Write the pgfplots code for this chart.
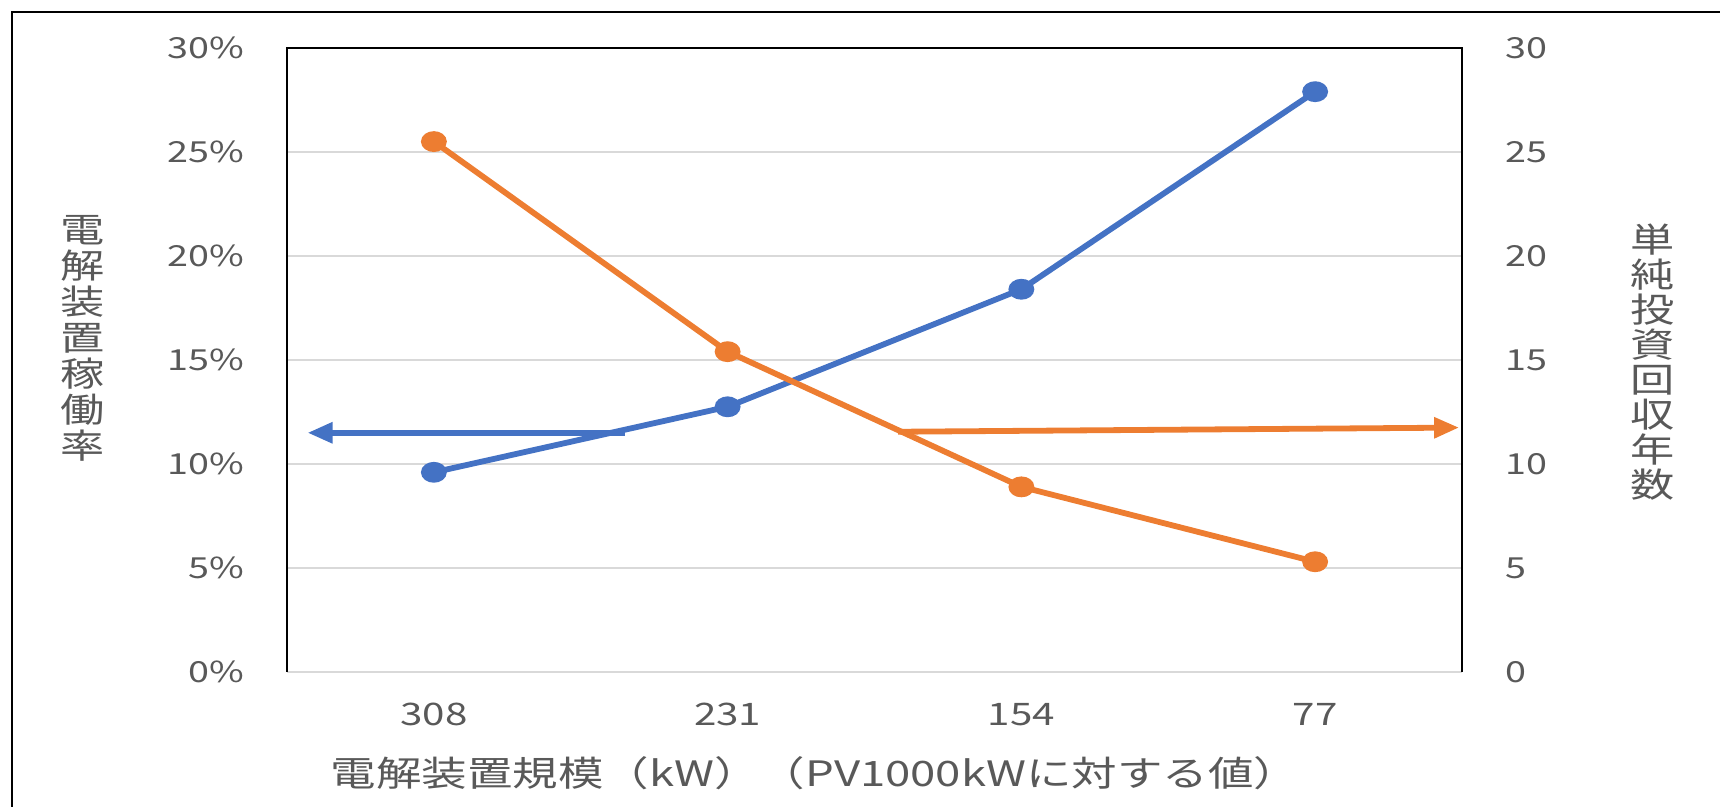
\documentclass[border=0pt]{standalone}
\usepackage{pgfplots}
\pgfplotsset{compat=1.18}
\usepackage{fontspec}
\usetikzlibrary{arrows.meta}
\setmainfont{Noto Sans CJK JP}[FakeStretch=1.3]
\definecolor{blueline}{HTML}{4472C4}
\definecolor{orangeline}{HTML}{ED7D31}
\definecolor{gridc}{HTML}{D9D9D9}
\definecolor{textc}{HTML}{595959}
\begin{document}
\begin{tikzpicture}
\path[use as bounding box] (0,0) rectangle (860pt,403.5pt);
\draw[line width=1pt] (6pt,0) -- (6pt,397.5pt) -- (860pt,397.5pt);
\begin{axis}[
 at={(143.5pt,67.5pt)}, anchor=south west, scale only axis, width=587.5pt, height=312pt,
 xmin=-0.5, xmax=3.5, ymin=0, ymax=30,
 xtick={0,1,2,3}, xticklabels={308,231,154,77},
 ytick={0,5,...,30}, yticklabels={0\%,5\%,10\%,15\%,20\%,25\%,30\%},
 axis line style={draw=none}, major tick length=0pt,
 ymajorgrids, grid style={color=gridc, line width=0.8pt},
 ticklabel style={text=textc},
 yticklabel style={font=\fontsize{14.5}{16}\selectfont, xshift=-18pt},
 xticklabel style={font=\fontsize{15.5}{17}\selectfont, yshift=-12pt},
 clip=false,
]
\draw[gridc, line width=0.8pt] (axis cs:-0.5,0) -- (axis cs:3.5,0);
\draw[black, line width=1pt] (axis cs:-0.5,0) -- (axis cs:-0.5,30) -- (axis cs:3.5,30) -- (axis cs:3.5,0);
\addplot[color=blueline, line width=2.9pt, mark=*, mark options={solid, xscale=1.33}, mark size=3.75pt] coordinates {(0,9.6)(1,12.75)(2,18.4)(3,27.9)};
\draw[blueline, line width=2.9pt, -{Triangle[length=12.5pt,width=10pt]}] (axis cs:0.65,11.5) -- (axis cs:-0.43,11.5);
\end{axis}
\begin{axis}[
 at={(143.5pt,67.5pt)}, anchor=south west, scale only axis, width=587.5pt, height=312pt,
 xmin=-0.5, xmax=3.5, ymin=0, ymax=30,
 axis x line=none, axis y line*=right, axis line style={draw=none},
 ytick={0,5,...,30}, yticklabels={0,5,10,15,20,25,30},
 major tick length=0pt,
 ticklabel style={text=textc},
 yticklabel style={font=\fontsize{14.5}{16}\selectfont, anchor=west, xshift=18pt},
 clip=false,
]
\addplot[color=orangeline, line width=2.9pt, mark=*, mark options={solid, xscale=1.33}, mark size=3.75pt] coordinates {(0,25.5)(1,15.4)(2,8.9)(3,5.3)};
\draw[orangeline, line width=2.9pt, -{Triangle[length=12.5pt,width=10pt]}] (axis cs:1.58,11.55) -- (axis cs:3.49,11.75);
\end{axis}
\node[text=textc, align=center, font=\fontsize{17}{18}\selectfont] at (41.5pt,234.5pt) {電\\解\\装\\置\\稼\\働\\率};
\node[text=textc, align=center, font=\fontsize{17}{17.5}\selectfont] at (826.5pt,222.5pt) {単\\純\\投\\資\\回\\収\\年\\数};
\node[text=textc, font=\fontsize{17.5}{18}\selectfont] at (407.5pt,17pt) {電解装置規模（kW）（PV1000kWに対する値）};
\end{tikzpicture}
\end{document}
